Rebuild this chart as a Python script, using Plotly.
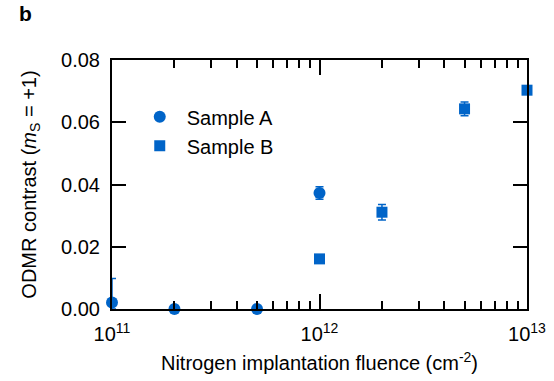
import plotly.graph_objects as go

# Data
a_x = [1e11, 2e11, 5e11, 1e12]
a_y = [0.0021, 0.0, 0.0, 0.0373]
a_err_plus = [0.0077, 0.0, 0.0, 0.0020]
a_err_minus = [0.0021, 0.0, 0.0, 0.0020]

b_x = [1e12, 2e12, 5e12, 1e13]
b_y = [0.0161, 0.0311, 0.0643, 0.0703]
b_err = [0.0, 0.0025, 0.0022, 0.0]

x_tickvals = [1e11, 1e12, 1e13]
x_ticktext = ["10<sup>11</sup>", "10<sup>12</sup>", "10<sup>13</sup>"]
y_tickvals = [0.0, 0.02, 0.04, 0.06, 0.08]
minor_vals = [m * 10**e for e in (11, 12) for m in range(2, 10)]

blue = "#0064C8"
font_family = "Liberation Sans, Arial, sans-serif"
fs = 20

fig = go.Figure()
fig.add_trace(go.Scatter(
    x=a_x, y=a_y, mode="markers", name="Sample A",
    marker=dict(symbol="circle", size=12, color=blue),
    error_y=dict(type="data", array=a_err_plus, arrayminus=a_err_minus,
                 symmetric=False, color=blue, thickness=1.5, width=4),
    cliponaxis=False,
))
fig.add_trace(go.Scatter(
    x=b_x, y=b_y, mode="markers", name="Sample B",
    marker=dict(symbol="square", size=11, color=blue),
    error_y=dict(type="data", array=b_err, color=blue, thickness=1.5, width=4),
    cliponaxis=False,
))

fig.update_layout(
    width=554, height=381,
    margin=dict(l=112, r=27, t=60, b=72),
    paper_bgcolor="white", plot_bgcolor="white",
    font=dict(family=font_family, size=fs, color="black"),
    showlegend=True,
    legend=dict(x=0.05, y=0.85, xanchor="left", yanchor="top",
                bgcolor="rgba(0,0,0,0)", itemwidth=44,
                font=dict(size=fs)),
    annotations=[dict(text="<b>b</b>", xref="paper", yref="paper",
                      x=(25 - 112) / 415, y=(309 - 13) / 249,
                      xanchor="center", yanchor="middle", showarrow=False,
                      font=dict(size=21))],
)
fig.update_xaxes(
    type="log", range=[11, 13], automargin=False,
    tickvals=x_tickvals, ticktext=x_ticktext,
    ticks="inside", ticklen=15, tickwidth=1.5, tickcolor="black",
    minor=dict(ticks="inside", ticklen=8, tickwidth=1.5, tickcolor="black",
               tickvals=minor_vals, showgrid=False),
    showline=True, linecolor="black", linewidth=2, mirror="allticks",
    showgrid=False, zeroline=False, ticklabelstandoff=6,
    title=dict(text="Nitrogen implantation fluence (cm<sup>-2</sup>)",
               font=dict(size=fs), standoff=12),
)
fig.update_yaxes(
    range=[0, 0.08], tickvals=y_tickvals, tickformat=".2f", automargin=False,
    ticks="inside", ticklen=14, tickwidth=1.5, tickcolor="black",
    showline=True, linecolor="black", linewidth=2, mirror="allticks",
    showgrid=False, zeroline=False, ticklabelstandoff=6,
    title=dict(text="ODMR contrast (<i>m</i><sub>S</sub> = +1)",
               font=dict(size=fs), standoff=19),
)

fig.write_html("out.html")
